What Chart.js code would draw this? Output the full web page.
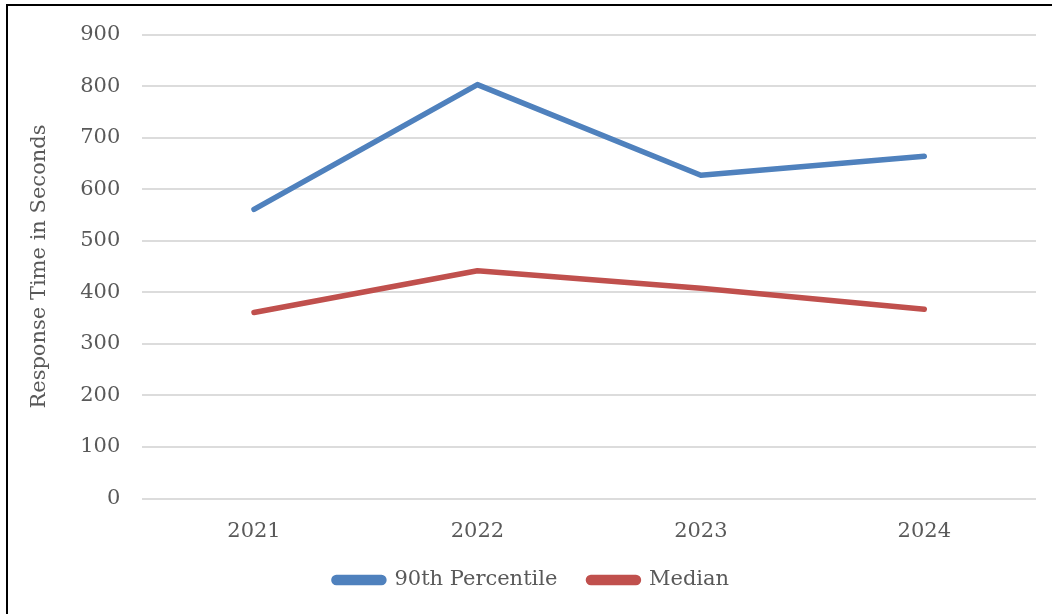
<!DOCTYPE html>
<html>
<head>
<meta charset="utf-8">
<script src="https://cdn.jsdelivr.net/npm/chart.js@4/dist/chart.umd.min.js"></script>
<style>
  html, body { margin: 0; padding: 0; background: #fff; overflow: hidden; }
  #wrap { position: absolute; left: 0; top: 0; width: 1052px; height: 614px; }
  #frame { position: absolute; left: 6px; top: 4px; width: 1046px; height: 610px;
           border-left: 2px solid #000; border-top: 2px solid #000; box-sizing: border-box; pointer-events: none; }
</style>
</head>
<body>
<div id="wrap"><canvas id="c" width="1052" height="614"></canvas></div>
<div id="frame"></div>
<script>
// Response times per year, in seconds
const years = ['2021', '2022', '2023', '2024'];
const p90Values = [561, 803, 627, 664];
const medianValues = [361, 442, 408, 367];
const yTicks = [0, 100, 200, 300, 400, 500, 600, 700, 800, 900];

const FONT = '"DejaVu Serif", Georgia, serif';
const TEXT = '#595959';
const SIZE = 21;

new Chart(document.getElementById('c'), {
  type: 'line',
  data: {
    labels: years,
    datasets: [
      { label: '90th Percentile', data: p90Values, borderColor: '#4F81BD', backgroundColor: '#4F81BD',
        borderWidth: 5.5, pointRadius: 0, tension: 0, borderCapStyle: 'round', borderJoinStyle: 'round' },
      { label: 'Median', data: medianValues, borderColor: '#C0504D', backgroundColor: '#C0504D',
        borderWidth: 5.5, pointRadius: 0, tension: 0, borderCapStyle: 'round', borderJoinStyle: 'round' }
    ]
  },
  options: {
    responsive: false,
    animation: false,
    layout: { padding: { left: 27, right: 16, top: 22, bottom: 13.5 } },
    scales: {
      x: {
        offset: true,
        grid: { display: false },
        border: { display: false },
        ticks: { color: TEXT, font: { family: FONT, size: SIZE }, padding: 12 },
        afterFit: (axis) => { axis.height = 40; }
      },
      y: {
        min: 0, max: 900,
        afterBuildTicks: (axis) => { axis.ticks = yTicks.map(v => ({ value: v })); },
        grid: { color: '#dcdcdc', lineWidth: 2, drawTicks: false },
        border: { display: false },
        ticks: { color: TEXT, font: { family: FONT, size: SIZE }, padding: 22 },
        title: { display: true, text: 'Response Time in Seconds', color: TEXT,
                 font: { family: FONT, size: SIZE }, padding: { top: 0, bottom: 6 } }
      }
    },
    plugins: {
      legend: {
        position: 'bottom',
        labels: {
          color: TEXT, font: { family: FONT, size: SIZE },
          boxWidth: 50, boxHeight: 5, useBorderRadius: true, borderRadius: 2.5, padding: 31
        }
      },
      tooltip: { enabled: false }
    }
  }
});
</script>
</body>
</html>
